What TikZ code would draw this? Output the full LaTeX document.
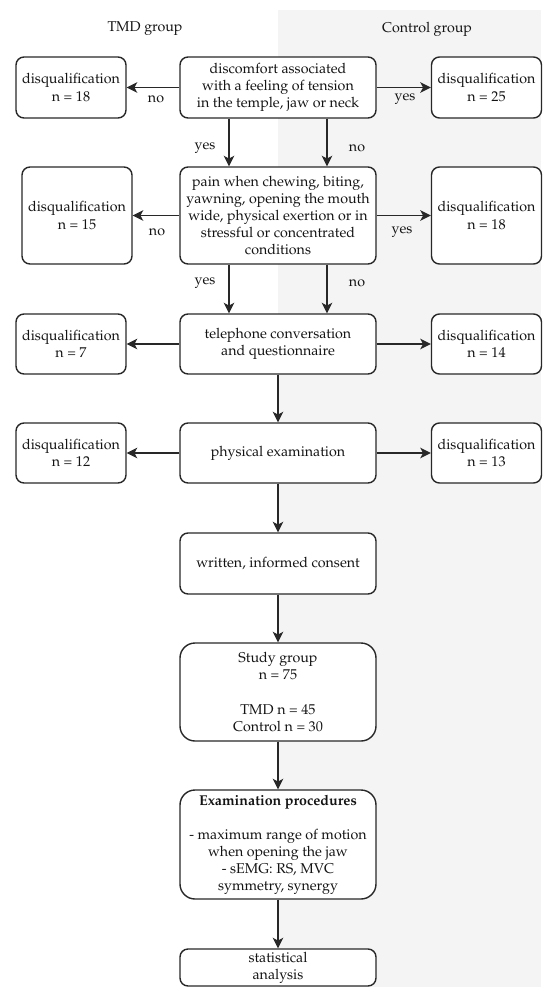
\documentclass[tikz,border=0pt]{standalone}
\usepackage[T1]{fontenc}
\renewcommand{\rmdefault}{ppl}
\usetikzlibrary{arrows.meta}
\definecolor{ctrl_grey}{RGB}{244, 244, 244}
\definecolor{line_grey}{RGB}{40, 40, 40}
\tikzstyle{mbox}=[rectangle,rounded corners=0.16cm,fill=white,draw=line_grey,
  line width=0.8pt,inner sep=0pt,align=center,minimum width=3.92cm]
\tikzstyle{sbox}=[rectangle,rounded corners=0.16cm,fill=white,draw=line_grey,
  line width=0.8pt,inner sep=0pt,align=center,minimum width=2.2cm]
\tikzstyle{arr}=[draw=line_grey,line width=0.8pt,
  -{Stealth[length=6pt,width=6pt,inset=1.6pt]}]
\tikzstyle{none}=[inner sep=0pt]

\begin{document}
\begin{tikzpicture}[font=\fontsize{8.1}{9.7}\selectfont,text=black!92]
        \useasboundingbox (0, 0) rectangle (11, -19.94);
        \fill [ctrl_grey] (5.56, -0.2) rectangle (10.82, -19.74);
        \node [style=none] (20) at (2.9, -0.58) {TMD group};
        \node [style=none] (21) at (8.54, -0.58) {Control group};
        \node [style=mbox, minimum height=1.22cm] (0) at (5.56, -1.75) {discomfort associated\\with a feeling of tension\\in the temple, jaw or neck};
        \node [style=sbox, minimum height=1.22cm] (1) at (1.42, -1.75) {disqualification\\n = 18};
        \node [style=sbox, minimum height=1.22cm] (2) at (9.73, -1.75) {disqualification\\n = 25};
        \node [style=mbox, minimum height=1.94cm] (3) at (5.56, -4.31) {pain when chewing, biting,\\yawning, opening the mouth\\wide, physical exertion or in\\stressful or concentrated\\conditions};
        \node [style=sbox, minimum height=1.94cm] (4) at (1.54, -4.31) {disqualification\\n = 15};
        \node [style=sbox, minimum height=1.94cm] (5) at (9.73, -4.31) {disqualification\\n = 18};
        \node [style=mbox, minimum height=1.2cm] (6) at (5.56, -6.88) {telephone conversation\\and questionnaire};
        \node [style=sbox, minimum height=1.2cm] (7) at (1.42, -6.88) {disqualification\\n = 7};
        \node [style=sbox, minimum height=1.2cm] (8) at (9.73, -6.88) {disqualification\\n = 14};
        \node [style=mbox, minimum height=1.2cm] (9) at (5.56, -9.06) {physical examination};
        \node [style=sbox, minimum height=1.2cm] (10) at (1.42, -9.06) {disqualification\\n = 12};
        \node [style=sbox, minimum height=1.2cm] (11) at (9.73, -9.06) {disqualification\\n = 13};
        \node [style=mbox, minimum height=1.22cm] (12) at (5.56, -11.27) {written, informed consent};
        \node [style=mbox, minimum height=1.96cm, rounded corners=0.3cm] (13) at (5.56, -13.84) {Study group\\n = 75\\[9.7pt]TMD n = 45\\Control n = 30};
        \node [style=mbox, minimum height=2.18cm, rounded corners=0.3cm] (14) at (5.56, -16.89) {\textbf{Examination procedures}\\[9.7pt]- maximum range of motion\\when opening the jaw\\- sEMG: RS, MVC\\symmetry, synergy};
        \node [style=mbox, minimum height=0.74cm] (15) at (5.56, -19.35) {statistical\\analysis};
        \node [style=none] (30) at (3.12, -1.98) {no};
        \node [style=none] (31) at (8.1, -1.98) {yes};
        \node [style=none] (32) at (4.1, -2.96) {yes};
        \node [style=none] (33) at (7.14, -2.96) {no};
        \node [style=none] (34) at (3.14, -4.64) {no};
        \node [style=none] (35) at (8.04, -4.64) {yes};
        \node [style=none] (36) at (4.1, -5.66) {yes};
        \node [style=none] (37) at (7.14, -5.66) {no};
        \draw [style=arr] (0) to (1);
        \draw [style=arr] (0) to (2);
        \draw [style=arr] ([xshift=-0.98cm]0.south) to ([xshift=-0.98cm]3.north);
        \draw [style=arr] ([xshift=0.98cm]0.south) to ([xshift=0.98cm]3.north);
        \draw [style=arr] (3) to (4);
        \draw [style=arr] (3) to (5);
        \draw [style=arr] ([xshift=-0.98cm]3.south) to ([xshift=-0.98cm]6.north);
        \draw [style=arr] ([xshift=0.98cm]3.south) to ([xshift=0.98cm]6.north);
        \draw [style=arr] (6) to (7);
        \draw [style=arr] (6) to (8);
        \draw [style=arr] (6) to (9);
        \draw [style=arr] (9) to (10);
        \draw [style=arr] (9) to (11);
        \draw [style=arr] (9) to (12);
        \draw [style=arr] (12) to (13);
        \draw [style=arr] (13) to (14);
        \draw [style=arr] (14) to (15);
    \end{tikzpicture}
\end{document}
